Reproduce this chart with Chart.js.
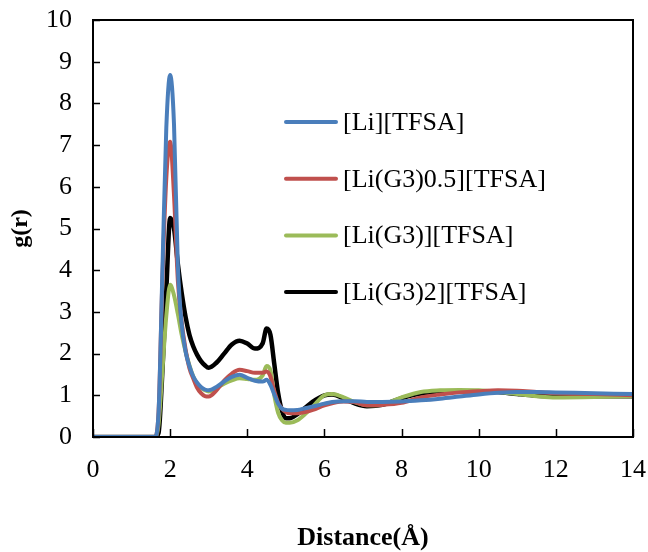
<!DOCTYPE html>
<html>
<head>
<meta charset="utf-8">
<script src="https://cdn.jsdelivr.net/npm/chart.js@4.4.1/dist/chart.umd.min.js"></script>
<style>
  html, body { margin: 0; padding: 0; background: #fff; }
  canvas { display: block; }
</style>
</head>
<body>
<canvas id="rdf" width="648" height="552"></canvas>
<script>
// radial distribution functions
const distance = [0, 1.6, 1.7, 1.8, 1.9, 2.0, 2.1, 2.2, 2.3, 2.4, 2.5, 2.6, 2.7, 2.8, 2.9, 3.0,
  3.2, 3.4, 3.6, 3.8, 4.0, 4.2, 4.4, 4.5, 4.6, 4.7, 4.8, 4.9, 5.0, 5.1, 5.3, 5.5, 5.7,
  6.0, 6.2, 6.5, 6.8, 7.1, 7.5, 8.0, 8.5, 9, 9.5, 10, 10.5, 11, 11.5, 12, 13, 14];

const liTfsa = [0, 0, 0.6, 4.0, 7.4, 8.68, 7.5, 4.1, 2.7, 2.05, 1.7, 1.45, 1.3, 1.2, 1.14, 1.12,
  1.2, 1.33, 1.44, 1.49, 1.42, 1.35, 1.33, 1.37, 1.25, 1.02, 0.8, 0.68, 0.65, 0.64, 0.65, 0.69, 0.73,
  0.8, 0.84, 0.86, 0.86, 0.84, 0.84, 0.85, 0.88, 0.92, 0.97, 1.02, 1.06, 1.08, 1.08, 1.07, 1.05, 1.03];

const liG3half = [0, 0, 0.6, 3.8, 6.2, 7.08, 5.8, 3.75, 2.75, 2.1, 1.65, 1.4, 1.18, 1.05, 0.98, 0.97,
  1.12, 1.35, 1.52, 1.61, 1.58, 1.54, 1.54, 1.57, 1.45, 1.1, 0.82, 0.68, 0.6, 0.57, 0.57, 0.6, 0.65,
  0.76, 0.81, 0.85, 0.83, 0.76, 0.77, 0.82, 0.95, 1.02, 1.07, 1.1, 1.12, 1.11, 1.08, 1.05, 1.03, 1.0];

const liG3 = [0, 0, 0.3, 1.6, 2.9, 3.65, 3.4, 2.95, 2.45, 2.05, 1.72, 1.45, 1.28, 1.18, 1.12, 1.09,
  1.18, 1.28, 1.36, 1.41, 1.39, 1.37, 1.48, 1.7, 1.6, 1.0, 0.58, 0.4, 0.34, 0.34, 0.4, 0.55, 0.73,
  1.0, 1.03, 0.95, 0.83, 0.76, 0.78, 0.95, 1.08, 1.12, 1.13, 1.12, 1.08, 1.03, 0.98, 0.95, 0.96, 0.98];

const liG3two = [0, 0, 0.1, 1.6, 3.5, 5.25, 5.0, 4.15, 3.45, 2.88, 2.45, 2.17, 1.97, 1.82, 1.72, 1.66,
  1.78, 2.0, 2.22, 2.31, 2.24, 2.12, 2.25, 2.6, 2.45, 1.75, 1.05, 0.62, 0.45, 0.45, 0.55, 0.7, 0.85,
  1.0, 1.02, 0.92, 0.8, 0.74, 0.77, 0.93, 1.04, 1.08, 1.1, 1.1, 1.08, 1.03, 0.99, 0.98, 0.98, 0.98];

const seriesNames = ['[Li][TFSA]', '[Li(G3)0.5][TFSA]', '[Li(G3)][TFSA]', '[Li(G3)2][TFSA]'];
const seriesColors = ['#4A7EBB', '#C0504D', '#9BBB59', '#000000'];
const xTicks = [0, 2, 4, 6, 8, 10, 12, 14];
const yTicks = [0, 1, 2, 3, 4, 5, 6, 7, 8, 9, 10];

const serif = '"Liberation Serif", "Times New Roman", serif';

function toPoints(values) {
  return distance.map((d, i) => ({ x: d, y: values[i] }));
}

const allValues = [liTfsa, liG3half, liG3, liG3two];

// frame + inward tick marks, like the Excel original
const framePlugin = {
  id: 'frame',
  afterDatasetsDraw(chart) {
    const { ctx, chartArea: a, scales } = chart;
    ctx.save();
    ctx.strokeStyle = '#000';
    ctx.lineWidth = 2;
    ctx.strokeRect(a.left, a.top, a.right - a.left, a.bottom - a.top);
    ctx.lineWidth = 1.5;
    ctx.beginPath();
    xTicks.forEach(v => {
      const px = Math.round(scales.x.getPixelForValue(v)) + 0.5;
      ctx.moveTo(px, a.bottom);
      ctx.lineTo(px, a.bottom - 8);
    });
    yTicks.forEach(v => {
      const py = Math.round(scales.y.getPixelForValue(v)) + 0.5;
      ctx.moveTo(a.left, py);
      ctx.lineTo(a.left + 7, py);
    });
    ctx.stroke();
    ctx.restore();
  }
};

// legend sitting inside the plot
const innerLegend = {
  id: 'innerLegend',
  afterDraw(chart) {
    const { ctx } = chart;
    ctx.save();
    ctx.font = '26px ' + serif;
    ctx.textBaseline = 'middle';
    chart.data.datasets.forEach((ds, i) => {
      const y = 122 + i * 56.7;
      ctx.strokeStyle = ds.borderColor;
      ctx.lineWidth = 4;
      ctx.lineCap = 'round';
      ctx.beginPath();
      ctx.moveTo(286, y);
      ctx.lineTo(336, y);
      ctx.stroke();
      ctx.fillStyle = '#000';
      ctx.fillText(ds.label, 343, y + 1);
    });
    ctx.restore();
  }
};

new Chart(document.getElementById('rdf'), {
  type: 'line',
  data: {
    datasets: allValues.map((vals, i) => ({
      label: seriesNames[i],
      data: toPoints(vals),
      borderColor: seriesColors[i],
      backgroundColor: seriesColors[i],
      borderWidth: i === 3 ? 4.5 : 4,
      pointRadius: 0,
      cubicInterpolationMode: 'monotone',
      fill: false
    }))
  },
  options: {
    responsive: false,
    animation: false,
    layout: { padding: { top: 20, right: 15, left: 0, bottom: 0 } },
    plugins: {
      legend: { display: false },
      tooltip: { enabled: false }
    },
    scales: {
      x: {
        type: 'linear',
        min: 0,
        max: 14,
        afterFit(s) { s.height = 115; s.paddingLeft = 0; s.paddingRight = 0; },
        afterBuildTicks(s) { s.ticks = xTicks.map(v => ({ value: v })); },
        grid: { display: false, drawTicks: false },
        border: { display: false },
        ticks: { color: '#000', padding: 18, font: { family: serif, size: 26 } },
        title: {
          display: true,
          text: 'Distance(Å)',
          color: '#000',
          padding: { top: 0, bottom: -2 },
          font: { family: serif, size: 26, weight: 'bold' }
        }
      },
      y: {
        min: 0,
        max: 10,
        afterFit(s) { s.width = 93; s.paddingTop = 0; s.paddingBottom = 0; },
        afterBuildTicks(s) { s.ticks = yTicks.map(v => ({ value: v })); },
        grid: { display: false, drawTicks: false },
        border: { display: false },
        ticks: { color: '#000', padding: 21, font: { family: serif, size: 26 } },
        title: {
          display: true,
          text: 'g(r)',
          color: '#000',
          padding: { top: 6, bottom: 0 },
          font: { family: serif, size: 24, weight: 'bold' }
        }
      }
    }
  },
  plugins: [framePlugin, innerLegend]
});
</script>
</body>
</html>
